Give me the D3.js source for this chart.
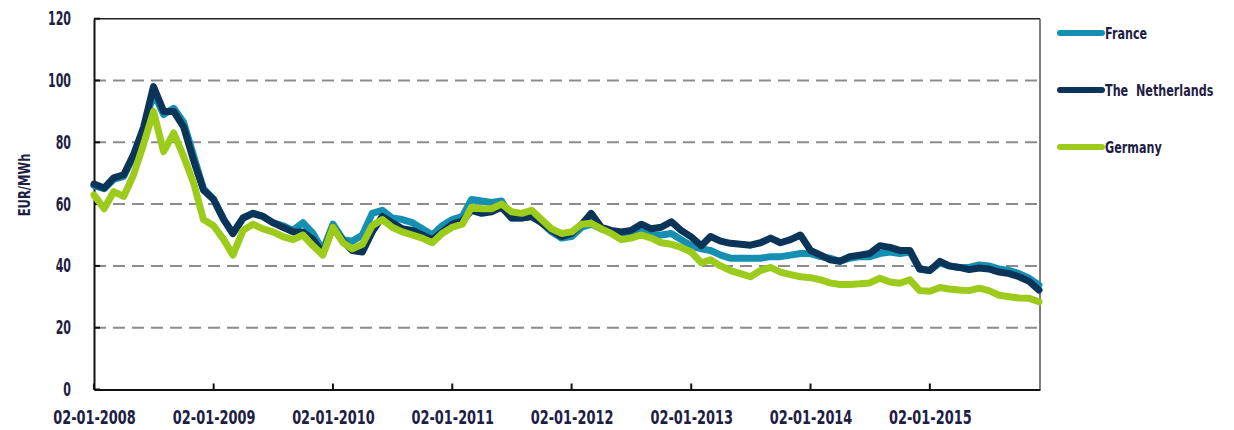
<!DOCTYPE html>
<html>
<head>
<meta charset="utf-8">
<script src="https://cdn.jsdelivr.net/npm/d3@7"></script>
<style>
  html, body { margin: 0; padding: 0; background: #fff; }
  svg { display: block; }
  text { font-family: "DejaVu Sans", "Liberation Sans", sans-serif; font-weight: bold; fill: #1e1e44; }
</style>
</head>
<body>
<svg id="chart" width="1234" height="430"></svg>
<script>
// ---- data ----
const seriesNames = ["France", "The  Netherlands", "Germany"];
const seriesColors = ["#1590b2", "#0b3558", "#9ccb1c"];
const startDate = "2008-01-02";
const endDate = "2015-12-05";
const yTicks = [0, 20, 40, 60, 80, 100, 120];
const xTickLabels = ["02-01-2008", "02-01-2009", "02-01-2010", "02-01-2011", "02-01-2012", "02-01-2013", "02-01-2014", "02-01-2015"];

// monthly observations, Jan 2008 .. Dec 2015 (EUR/MWh)
const france = [
  66, 65, 68, 69, 75.5, 84, 96, 89, 91, 86.5, 75.5, 65,
  61.5, 55, 50.5, 55.5, 57, 56, 54, 53, 51.5, 54, 50.5, 45,
  53.5, 48.5, 48, 50, 57, 58, 55.5, 55, 54, 52, 50, 53,
  55, 56, 61.5, 61, 60.5, 61, 55.5, 55.5, 56, 54, 51, 49,
  49.5, 52.5, 53.5, 52, 51, 50, 50, 51, 50, 50, 50.5, 48.5,
  46.5, 45.5, 45, 43.5, 42.5, 42.5, 42.5, 42.5, 43, 43, 43.5, 44,
  44, 43, 42.5, 41.5, 42.5, 43, 43, 44, 44.5, 44, 44.5, 39,
  38.5, 41, 40, 39.5, 39.5, 40.3, 40, 39, 38.5, 37.5, 36, 33.8
];
const netherlands = [
  66.5, 65.2, 68.5, 69.5, 76, 85, 98, 90, 90, 85, 74, 64.5,
  61.5, 55, 50.5, 55.5, 57, 56, 54, 52.5, 51, 51, 48.5, 44,
  52.5, 48, 45, 44.5, 51, 56, 54, 52, 51.5, 50, 48.5, 51,
  53.5, 54.5, 58, 57, 57.5, 59, 55.5, 55.5, 56, 54, 51.5, 49.5,
  50.5, 53.5, 57, 52.5, 51.5, 51, 51.5, 53.5, 52, 52.5, 54.3, 51.5,
  49.4, 46.5, 49.5, 48, 47.3, 47, 46.7, 47.5, 49, 47.5, 48.5, 50,
  45, 43.5, 42, 41.5, 43, 43.5, 44, 46.5, 46, 45, 45, 39,
  38.5, 41.5, 40, 39.5, 38.8, 39.3, 39, 38, 37.5, 36.5, 35, 32.2
];
const germany = [
  63, 58.5, 64, 62.5, 69.5, 79.5, 90, 77, 83, 75.5, 66.7, 55,
  53, 48.5, 43.5, 51.5, 53.5, 52, 51, 49.5, 48.5, 50, 46.5, 43.5,
  52.5, 47.5, 45.5, 47, 53, 55, 52.5, 51, 50, 49, 47.5, 50.5,
  52.5, 53.5, 59, 58.5, 58.5, 60, 57.5, 57, 58, 55, 52, 50.5,
  51, 53.5, 53.8, 52, 50.5, 48.5, 49, 50, 49, 47.5, 47, 46,
  44.5, 41, 42, 40, 38.5, 37.5, 36.5, 38.5, 39.5, 38, 37.2, 36.5,
  36.2, 35.5, 34.5, 34, 34, 34.2, 34.5, 36, 34.8, 34.4, 35.5, 32,
  31.8, 33, 32.5, 32.2, 32, 32.8, 32, 30.5, 30, 29.6, 29.5, 28.4
];

// ---- layout ----
const svg = d3.select("#chart");
const parse = d3.utcParse("%Y-%m-%d");
const parseLabel = d3.utcParse("%d-%m-%Y");
const t0 = parse(startDate);
const dates = france.map((_, i) => d3.utcMonth.offset(t0, i));

const mLeft = 94, mRight = 1040, mTop = 18.7, mBottom = 389.5;
const x = d3.scaleUtc().domain([t0, parse(endDate)]).range([mLeft, mRight]);
const y = d3.scaleLinear().domain([0, 120]).range([mBottom, mTop]);

// condensed look: squeeze each text horizontally
function condense(sel, factor) {
  sel.each(function () {
    const w = this.getComputedTextLength();
    d3.select(this).attr("textLength", w * factor).attr("lengthAdjust", "spacingAndGlyphs");
  });
}

// gridlines
svg.append("g").selectAll("line")
  .data(yTicks.filter(v => v > 0 && v < 120))
  .join("line")
  .attr("x1", mLeft).attr("x2", mRight)
  .attr("y1", d => y(d)).attr("y2", d => y(d))
  .attr("stroke", "#8c8c8c").attr("stroke-width", 2)
  .attr("stroke-dasharray", "12,7");

// frame
svg.append("line").attr("x1", mLeft).attr("x2", mRight).attr("y1", y(120)).attr("y2", y(120))
  .attr("stroke", "#222").attr("stroke-width", 1.5);
svg.append("line").attr("x1", mRight).attr("x2", mRight).attr("y1", y(120)).attr("y2", y(0))
  .attr("stroke", "#555").attr("stroke-width", 1.5);

// y axis
const yAxis = d3.axisLeft(y).tickValues(yTicks).tickSize(0).tickPadding(23);
const gy = svg.append("g").attr("transform", `translate(${mLeft},0)`).call(yAxis);
gy.attr("font-family", null);
gy.select(".domain").attr("stroke", "#111").attr("stroke-width", 2);
gy.selectAll("text").style("font-size", "19px").attr("fill", "#1e1e44");
condense(gy.selectAll("text"), 0.58);
svg.append("g").selectAll("line").data(yTicks).join("line")
  .attr("x1", mLeft).attr("x2", mLeft + 6)
  .attr("y1", d => y(d)).attr("y2", d => y(d))
  .attr("stroke", "#111").attr("stroke-width", 2);

// x axis
const xTickDates = xTickLabels.map(s => parseLabel(s));
const xAxis = d3.axisBottom(x).tickValues(xTickDates)
  .tickFormat((d, i) => xTickLabels[i]).tickSize(0).tickPadding(21);
const gx = svg.append("g").attr("transform", `translate(0,${mBottom})`).call(xAxis);
gx.attr("font-family", null);
gx.select(".domain").attr("stroke", "#111").attr("stroke-width", 2);
gx.selectAll("text").style("font-size", "19px").attr("fill", "#1e1e44");
condense(gx.selectAll("text"), 0.68);
svg.append("g").selectAll("line").data(xTickDates).join("line")
  .attr("x1", d => x(d)).attr("x2", d => x(d))
  .attr("y1", mBottom).attr("y2", mBottom - 6)
  .attr("stroke", "#111").attr("stroke-width", 2);

// y title
const title = svg.append("text")
  .attr("transform", `translate(30,185) rotate(-90)`)
  .attr("text-anchor", "middle")
  .style("font-size", "16px")
  .text("EUR/MWh");
condense(title, 0.72);

// lines
const allSeries = [france, netherlands, germany];
const line = d3.line().x((d, i) => x(dates[i])).y(d => y(d));
svg.append("g").selectAll("path").data(allSeries).join("path")
  .attr("d", d => line(d))
  .attr("fill", "none")
  .attr("stroke", (d, i) => seriesColors[i])
  .attr("stroke-width", 7)
  .attr("stroke-linejoin", "round")
  .attr("stroke-linecap", "round");

// legend
const legendY = [33, 90, 147];
const lg = svg.append("g").selectAll("g").data(seriesNames).join("g")
  .attr("transform", (d, i) => `translate(1058,${legendY[i]})`);
lg.append("line").attr("x1", 2).attr("x2", 44).attr("y1", 0).attr("y2", 0)
  .attr("stroke", (d, i) => seriesColors[i]).attr("stroke-width", 6).attr("stroke-linecap", "round");
lg.append("text")
  .attr("transform", "translate(47,0) scale(0.7,1)")
  .attr("dy", "0.38em")
  .style("font-size", "16px").style("white-space", "pre")
  .text(d => d);
</script>
</body>
</html>
